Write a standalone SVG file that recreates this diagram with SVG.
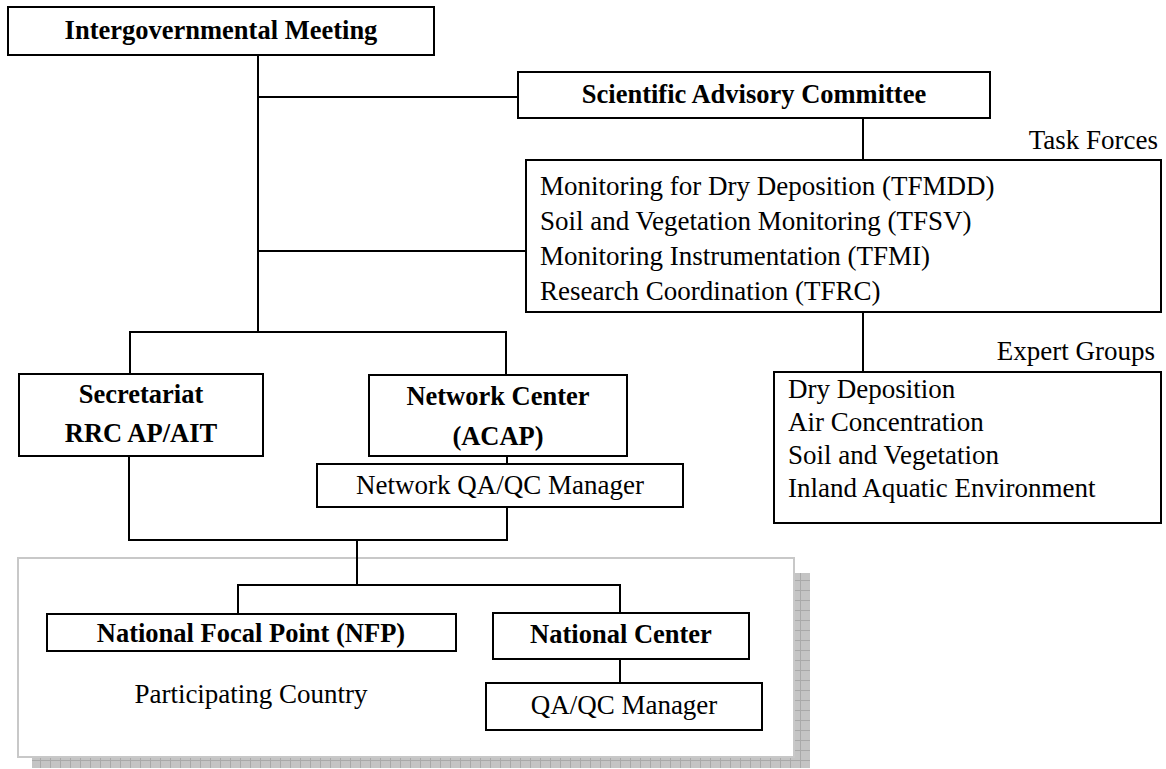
<svg xmlns="http://www.w3.org/2000/svg" width="1166" height="769" viewBox="0 0 1166 769">
<style>
.box{fill:#fff;stroke:#000;stroke-width:2}
.t{font-family:"Liberation Serif","Times New Roman",serif;font-size:27px;fill:#000}
.b{font-family:"Liberation Serif","Times New Roman",serif;font-size:26.5px;font-weight:bold;fill:#000}
.c{text-anchor:middle}
.e{text-anchor:end}
.conn line{stroke:#000;stroke-width:2}
</style>
<defs>
<pattern id="hatch" width="10" height="10" patternUnits="userSpaceOnUse">
<rect width="10" height="10" fill="#c4c4c4"/>
<path d="M0 0.5H10M0.5 0V10" stroke="#a9a9a9" stroke-width="1"/>
</pattern>
</defs>
<rect width="1166" height="769" fill="#fff"/>

<g id="participating-country">
<rect x="794" y="573" width="16" height="195" fill="url(#hatch)"/>
<rect x="32" y="757" width="778" height="11" fill="url(#hatch)"/>
<rect x="18" y="558" width="776" height="199" fill="#fff" stroke="#c8c8c8" stroke-width="2"/>
<text class="t c" x="251" y="703">Participating Country</text>
</g>

<g class="conn" id="connectors">
<line x1="258" y1="55" x2="258" y2="332"/>
<line x1="258" y1="97" x2="518" y2="97"/>
<line x1="258" y1="251" x2="526" y2="251"/>
<line x1="129" y1="332" x2="507" y2="332"/>
<line x1="130" y1="332" x2="130" y2="374"/>
<line x1="506" y1="332" x2="506" y2="375"/>
<line x1="863" y1="118" x2="863" y2="160"/>
<line x1="863" y1="312" x2="863" y2="372"/>
<line x1="129" y1="456" x2="129" y2="541"/>
<line x1="507" y1="456" x2="507" y2="464"/>
<line x1="507" y1="507" x2="507" y2="541"/>
<line x1="128" y1="540" x2="508" y2="540"/>
<line x1="357" y1="540" x2="357" y2="585"/>
<line x1="237" y1="585" x2="621" y2="585"/>
<line x1="238" y1="585" x2="238" y2="614"/>
<line x1="620" y1="585" x2="620" y2="613"/>
<line x1="620" y1="659" x2="620" y2="683"/>
</g>

<g id="intergovernmental-meeting">
<rect class="box" x="8" y="7" width="426" height="48"/>
<text class="b c" x="221" y="39">Intergovernmental Meeting</text>
</g>

<g id="scientific-advisory-committee">
<rect class="box" x="518" y="72" width="472" height="46"/>
<text class="b c" x="754" y="103">Scientific Advisory Committee</text>
</g>

<g id="task-forces">
<text class="t e" x="1158" y="149">Task Forces</text>
<rect class="box" x="526" y="160" width="635" height="152"/>
<text class="t" x="540" y="195">Monitoring for Dry Deposition (TFMDD)</text>
<text class="t" x="540" y="230">Soil and Vegetation Monitoring (TFSV)</text>
<text class="t" x="540" y="265">Monitoring Instrumentation (TFMI)</text>
<text class="t" x="540" y="300">Research Coordination (TFRC)</text>
</g>

<g id="expert-groups">
<text class="t e" x="1155" y="360">Expert Groups</text>
<rect class="box" x="774" y="372" width="387" height="151"/>
<text class="t" x="788" y="398">Dry Deposition</text>
<text class="t" x="788" y="431">Air Concentration</text>
<text class="t" x="788" y="464">Soil and Vegetation</text>
<text class="t" x="788" y="497">Inland Aquatic Environment</text>
</g>

<g id="secretariat">
<rect class="box" x="19" y="374" width="244" height="82"/>
<text class="b c" x="141" y="403">Secretariat</text>
<text class="b c" x="141" y="442">RRC AP/AIT</text>
</g>

<g id="network-center">
<rect class="box" x="369" y="375" width="258" height="81"/>
<text class="b c" x="498" y="405">Network Center</text>
<text class="b c" x="498" y="445">(ACAP)</text>
</g>

<g id="network-qaqc">
<rect class="box" x="317" y="464" width="366" height="43"/>
<text class="t c" x="500" y="494">Network QA/QC Manager</text>
</g>

<g id="national-focal-point">
<rect class="box" x="47" y="614" width="409" height="37"/>
<text class="b c" x="251" y="642">National Focal Point (NFP)</text>
</g>

<g id="national-center">
<rect class="box" x="493" y="613" width="256" height="46"/>
<text class="b c" x="621" y="643">National Center</text>
</g>

<g id="qaqc-manager">
<rect class="box" x="486" y="683" width="276" height="47"/>
<text class="t c" x="624" y="714">QA/QC Manager</text>
</g>
</svg>
